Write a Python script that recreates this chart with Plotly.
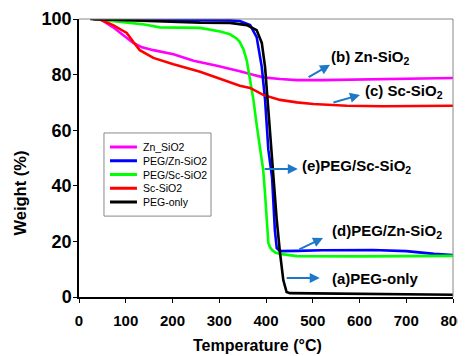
import plotly.graph_objects as go

# ---- data ----
zn_t = [30, 45, 73, 95, 116, 135, 159, 202, 245, 295, 323, 344, 370, 394, 430, 466, 520, 580, 629, 700, 760, 800]
zn_w = [100, 100, 97, 94, 91.4, 89.8, 88.8, 87.3, 85, 83.2, 82.2, 81.2, 80, 79, 78.4, 78, 78, 78.2, 78.2, 78.5, 78.7, 78.8]

pegzn_t = [30, 100, 200, 300, 323, 344, 366, 380, 391, 398, 405, 413, 419, 423, 430, 466, 520, 629, 700, 760, 800]
pegzn_w = [100, 99.9, 99.8, 99.7, 99.5, 99.3, 97.8, 93.5, 82.7, 71, 53, 43, 24, 17.6, 16.5, 16.6, 16.8, 16.9, 16.5, 15.5, 15.1]

pegsc_t = [30, 60, 100, 140, 173, 220, 259, 302, 323, 337, 344, 352, 359, 366, 373, 380, 387, 394, 398, 402, 405, 409, 413, 420, 430, 466, 520, 600, 700, 800]
pegsc_w = [100, 99.6, 98.8, 98, 97, 96.9, 96.8, 95.5, 94.5, 93, 91.7, 89, 85, 78, 71, 62, 53, 45.7, 37, 24, 19.4, 17.8, 16.9, 16, 15.5, 14.7, 14.6, 14.6, 14.7, 14.8]

sc_t = [30, 45, 73, 102, 116, 130, 159, 202, 259, 323, 344, 366, 394, 430, 466, 501, 573, 650, 720, 800]
sc_w = [100, 99.8, 97.8, 95, 91.8, 88.8, 86, 83.7, 81, 77.2, 76, 75.2, 72.7, 70.9, 70, 69.4, 68.8, 68.6, 68.7, 68.8]

peg_t = [24, 100, 188, 260, 323, 344, 359, 380, 391, 398, 405, 413, 415, 423, 430, 437, 444, 451, 500, 600, 700, 800]
peg_w = [100, 99.6, 99, 98.7, 98.6, 98.2, 97.8, 96, 91.4, 82.7, 67, 50, 45.7, 27.7, 15.8, 6.1, 1.8, 1.4, 1.3, 1.2, 1.0, 0.8]

series_names = ["Zn_SiO2", "PEG/Zn-SiO2", "PEG/Sc-SiO2", "Sc-SiO2", "PEG-only"]
x_ticks = [0, 100, 200, 300, 400, 500, 600, 700, 800]
y_ticks = [0, 20, 40, 60, 80, 100]

FONT = "Liberation Sans, Arial, sans-serif"
colors = ["#FF00FF", "#0000FF", "#00FF00", "#FF0000", "#000000"]
data = [(zn_t, zn_w), (pegzn_t, pegzn_w), (pegsc_t, pegsc_w), (sc_t, sc_w), (peg_t, peg_w)]

fig = go.Figure()
for name, (t, w), c in zip(series_names, data, colors):
    fig.add_trace(go.Scatter(x=t, y=w, mode="lines", name=name, showlegend=False,
                             line=dict(color=c, width=2.6)))

# ---- compact legend (drawn with shapes/annotations in paper space) ----
fig.add_shape(type="rect", xref="paper", yref="paper", x0=0.0668, x1=0.353, y0=0.291, y1=0.590,
              line=dict(color="#888", width=1), fillcolor="white", layer="above")
for i, (name, c) in enumerate(zip(series_names, colors)):
    yy = (297 - (147 + 13.75 * i)) / 278
    fig.add_shape(type="line", xref="paper", yref="paper", x0=0.0829, x1=0.155, y0=yy, y1=yy,
                  line=dict(color=c, width=3), layer="above")
    fig.add_annotation(x=0.166, y=yy, xref="paper", yref="paper", text=name, showarrow=False,
                       xanchor="left", yanchor="middle",
                       font=dict(family=FONT, size=10.5, color="#000"))

arrow_c = "#1E78C8"
arrows = [  # (head x, head y, tail x, tail y)
    (537, 83.5, 488, 78.8),
    (601, 72.7, 541, 69.8),
    (468, 46, 394, 46),
    (522, 21.2, 468, 16.9),
    (515, 6.8, 441, 6.8),
]
for hx, hy, tx, ty in arrows:
    fig.add_annotation(x=hx, y=hy, ax=tx, ay=ty, xref="x", yref="y", axref="x", ayref="y",
                       text="", showarrow=True, arrowhead=2, arrowsize=1, arrowwidth=2,
                       arrowcolor=arrow_c)

labels = [
    (535, 86, "(b) Zn-SiO<sub>2</sub>"),
    (607, 74, "(c) Sc-SiO<sub>2</sub>"),
    (473, 47, "(e)PEG/Sc-SiO<sub>2</sub>"),
    (537, 23.4, "(d)PEG/Zn-SiO<sub>2</sub>"),
    (537, 6.8, "(a)PEG-only"),
]
for x, y, txt in labels:
    fig.add_annotation(x=x, y=y, xref="x", yref="y", text="<b>" + txt + "</b>",
                       showarrow=False, xanchor="left", yanchor="middle",
                       font=dict(family=FONT, size=15, color="#000"))

fig.add_annotation(x=0.476, y=-0.176, xref="paper", yref="paper", text="<b>Temperature (°C)</b>",
                   showarrow=False, xanchor="center", yanchor="middle",
                   font=dict(family=FONT, size=16, color="#000"))
fig.add_annotation(x=-0.159, y=0.374, xref="paper", yref="paper", text="<b>Weight (%)</b>",
                   showarrow=False, xanchor="center", yanchor="middle", textangle=-90,
                   font=dict(family=FONT, size=16.5, color="#000"))

# top/right gray frame
fig.add_shape(type="line", xref="paper", yref="paper", x0=0, x1=1, y0=1, y1=1,
              line=dict(color="#888", width=1))
fig.add_shape(type="line", xref="paper", yref="paper", x0=1, x1=1, y0=0, y1=1,
              line=dict(color="#888", width=1))

fig.update_xaxes(range=[0, 800], tickvals=x_ticks, ticks="outside", ticklen=4,
                 tickcolor="#000", showline=True, linecolor="#000", linewidth=1.5,
                 showgrid=False, zeroline=False, ticklabelstandoff=5,
                 ticklabeloverflow="allow",
                 tickfont=dict(family=FONT, size=15, color="#000", weight="bold"))
fig.update_yaxes(range=[0, 100], tickvals=y_ticks, ticks="outside", ticklen=4,
                 tickcolor="#000", showline=True, linecolor="#000", linewidth=1.5,
                 showgrid=False, zeroline=False, ticklabelstandoff=-2,
                 tickfont=dict(family=FONT, size=18, color="#000", weight="bold"))

# page body has an 8px margin, so the figure is offset by 8px
fig.update_layout(
    width=458, height=348,
    margin=dict(l=71, r=13, t=11, b=59, autoexpand=False),
    plot_bgcolor="white", paper_bgcolor="white",
    showlegend=False,
)

fig.write_html("out.html")
